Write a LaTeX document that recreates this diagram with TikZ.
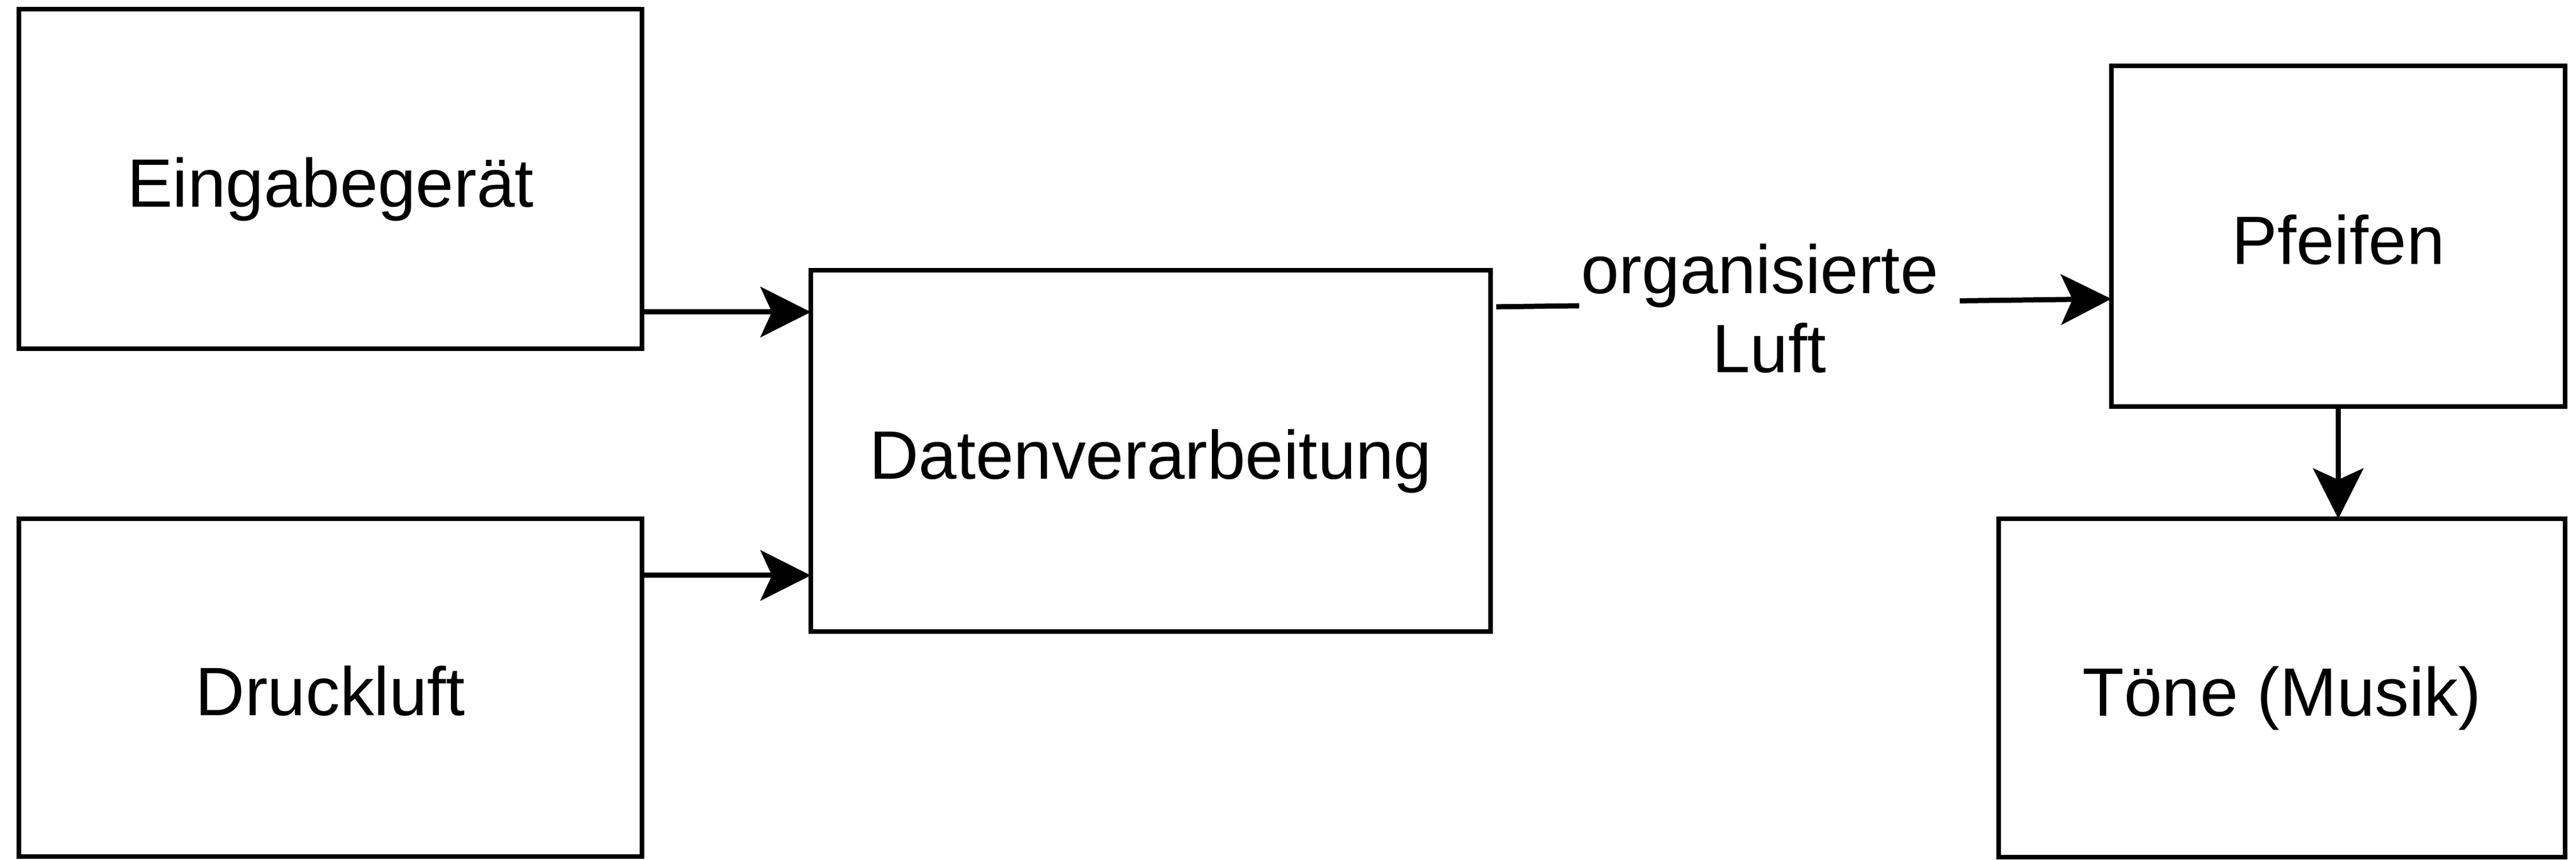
\documentclass[tikz,border=0pt]{standalone}
\usepackage{fontspec}
\setmainfont{Liberation Sans}
\usetikzlibrary{arrows.meta}
\begin{document}
\begin{tikzpicture}[
  box/.style={draw, line width=0.086cm, rectangle, inner sep=0pt, outer sep=0pt,
    text height=0.98cm, text depth=0cm,
    font=\fontsize{34}{39.3}\selectfont},
  arr/.style={line width=0.09cm, -{Stealth[length=0.88cm, width=0.88cm, inset=0.2cm]}},
  lbl/.style={fill=white, inner xsep=1pt, inner ysep=2pt, align=center, font=\fontsize{34}{39.3}\selectfont}
]
\useasboundingbox (0,0) rectangle (45.02,-15.02);
\node[box, minimum width=10.89cm, minimum height=5.93cm] (ein) at (5.775,-3.125) {Eingabegerät};
\node[box, minimum width=10.89cm, minimum height=5.90cm] (dru) at (5.775,-12.01) {Druckluft};
\node[box, minimum width=11.88cm, minimum height=6.31cm] (dat) at (20.11,-7.875) {Datenverarbeitung};
\node[box, minimum width=7.93cm, minimum height=5.95cm] (pf) at (40.865,-4.125) {Pfeifen};
\node[box, minimum width=9.90cm, minimum height=5.91cm] (ton) at (39.88,-12.015) {Töne (Musik)};
\draw[arr] (ein.east |- 0,-5.45) -- (dat.west |- 0,-5.45);
\draw[arr] (dru.east |- 0,-10.05) -- (dat.west |- 0,-10.05);
\draw[arr, shorten <=0.1cm] (dat.east |- 0,-5.36) -- node[lbl, pos=0.449, yshift=-0.09cm] {organisierte\makebox[0.278em]{}\\Luft} (pf.west |- 0,-5.22);
\draw[arr] (pf.south) -- (pf.south |- ton.north);
\end{tikzpicture}
\end{document}
